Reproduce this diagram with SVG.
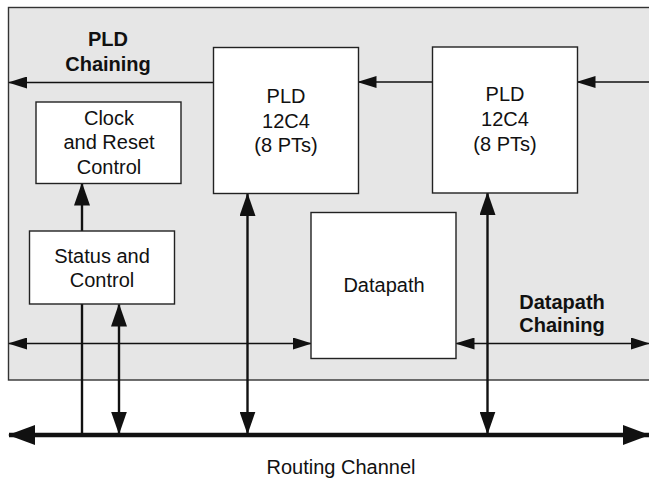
<svg xmlns="http://www.w3.org/2000/svg" width="649" height="479" viewBox="0 0 649 479">
<style>
.box{fill:#fff;stroke:#222;stroke-width:1.4}
.t{font-family:"Liberation Sans",Arial,sans-serif;font-size:20px;fill:#111;text-anchor:middle}
.b{font-weight:bold}
.thin{stroke:#111;stroke-width:1.4;fill:none}
.med{stroke:#111;stroke-width:2.4;fill:none}
.bus{stroke:#111;stroke-width:4.6;fill:none}
</style>
<defs>
<marker id="aT" viewBox="0 0 19 12" refX="18" refY="6" markerWidth="19" markerHeight="12" markerUnits="userSpaceOnUse" orient="auto-start-reverse"><path d="M0,0 L19,6 L0,12 z" fill="#111"/></marker>
<marker id="aM" viewBox="0 0 23 16" refX="22" refY="8" markerWidth="23" markerHeight="16" markerUnits="userSpaceOnUse" orient="auto-start-reverse"><path d="M0,0 L23,8 L0,16 z" fill="#111"/></marker>
<marker id="aB" viewBox="0 0 27 20" refX="26" refY="10" markerWidth="27" markerHeight="20" markerUnits="userSpaceOnUse" orient="auto-start-reverse"><path d="M0,0 L27,10 L0,20 z" fill="#111"/></marker>
</defs>
<rect width="649" height="479" fill="#fff"/>
<rect id="region" x="8.5" y="7.5" width="660" height="372.5" fill="#e6e6e6" stroke="#333" stroke-width="1.4"/>

<g id="connectors">
<line class="thin" x1="213" y1="82.5" x2="9" y2="82.5" marker-end="url(#aT)"/>
<line class="thin" x1="432" y1="82" x2="358.5" y2="82" marker-end="url(#aT)"/>
<line class="thin" x1="655" y1="82" x2="577.5" y2="82" marker-end="url(#aT)"/>
<line class="med" x1="82" y1="231" x2="82" y2="183.5" marker-end="url(#aM)"/>
<line class="med" x1="82" y1="304" x2="82" y2="435"/>
<line class="med" x1="119" y1="304.5" x2="119" y2="433.5" marker-start="url(#aM)" marker-end="url(#aM)"/>
<line class="med" x1="247.5" y1="194" x2="247.5" y2="433.5" marker-start="url(#aM)" marker-end="url(#aM)"/>
<line class="med" x1="487.5" y1="193" x2="487.5" y2="433.5" marker-start="url(#aM)" marker-end="url(#aM)"/>
<line class="thin" x1="9" y1="343.5" x2="311" y2="343.5" marker-start="url(#aT)" marker-end="url(#aT)"/>
<line class="thin" x1="456.5" y1="343.5" x2="649" y2="343.5" marker-start="url(#aT)" marker-end="url(#aT)"/>
<line class="bus" x1="9" y1="435" x2="649" y2="435" marker-start="url(#aB)" marker-end="url(#aB)"/>
</g>

<g id="pld1">
<rect class="box" x="213.5" y="47.5" width="145" height="146"/>
<text class="t" x="286" y="103">PLD</text>
<text class="t" x="286" y="128">12C4</text>
<text class="t" x="286" y="152">(8 PTs)</text>
</g>
<g id="pld2">
<rect class="box" x="432.5" y="47" width="145" height="146"/>
<text class="t" x="505" y="101">PLD</text>
<text class="t" x="505" y="126">12C4</text>
<text class="t" x="505" y="151">(8 PTs)</text>
</g>
<g id="clock">
<rect class="box" x="36" y="102" width="145" height="81.5"/>
<text class="t" x="109" y="125">Clock</text>
<text class="t" x="109" y="149">and Reset</text>
<text class="t" x="109" y="174">Control</text>
</g>
<g id="status">
<rect class="box" x="29.5" y="231" width="145" height="73"/>
<text class="t" x="102" y="262.5">Status and</text>
<text class="t" x="102" y="287">Control</text>
</g>
<g id="datapath">
<rect class="box" x="311" y="212.5" width="145" height="146"/>
<text class="t" x="384" y="291.5">Datapath</text>
</g>
<g id="labels">
<text class="t b" x="108" y="45.5">PLD</text>
<text class="t b" x="108" y="70.5">Chaining</text>
<text class="t b" x="562" y="309">Datapath</text>
<text class="t b" x="562" y="332">Chaining</text>
<text class="t" x="341" y="474">Routing Channel</text>
</g>
</svg>
